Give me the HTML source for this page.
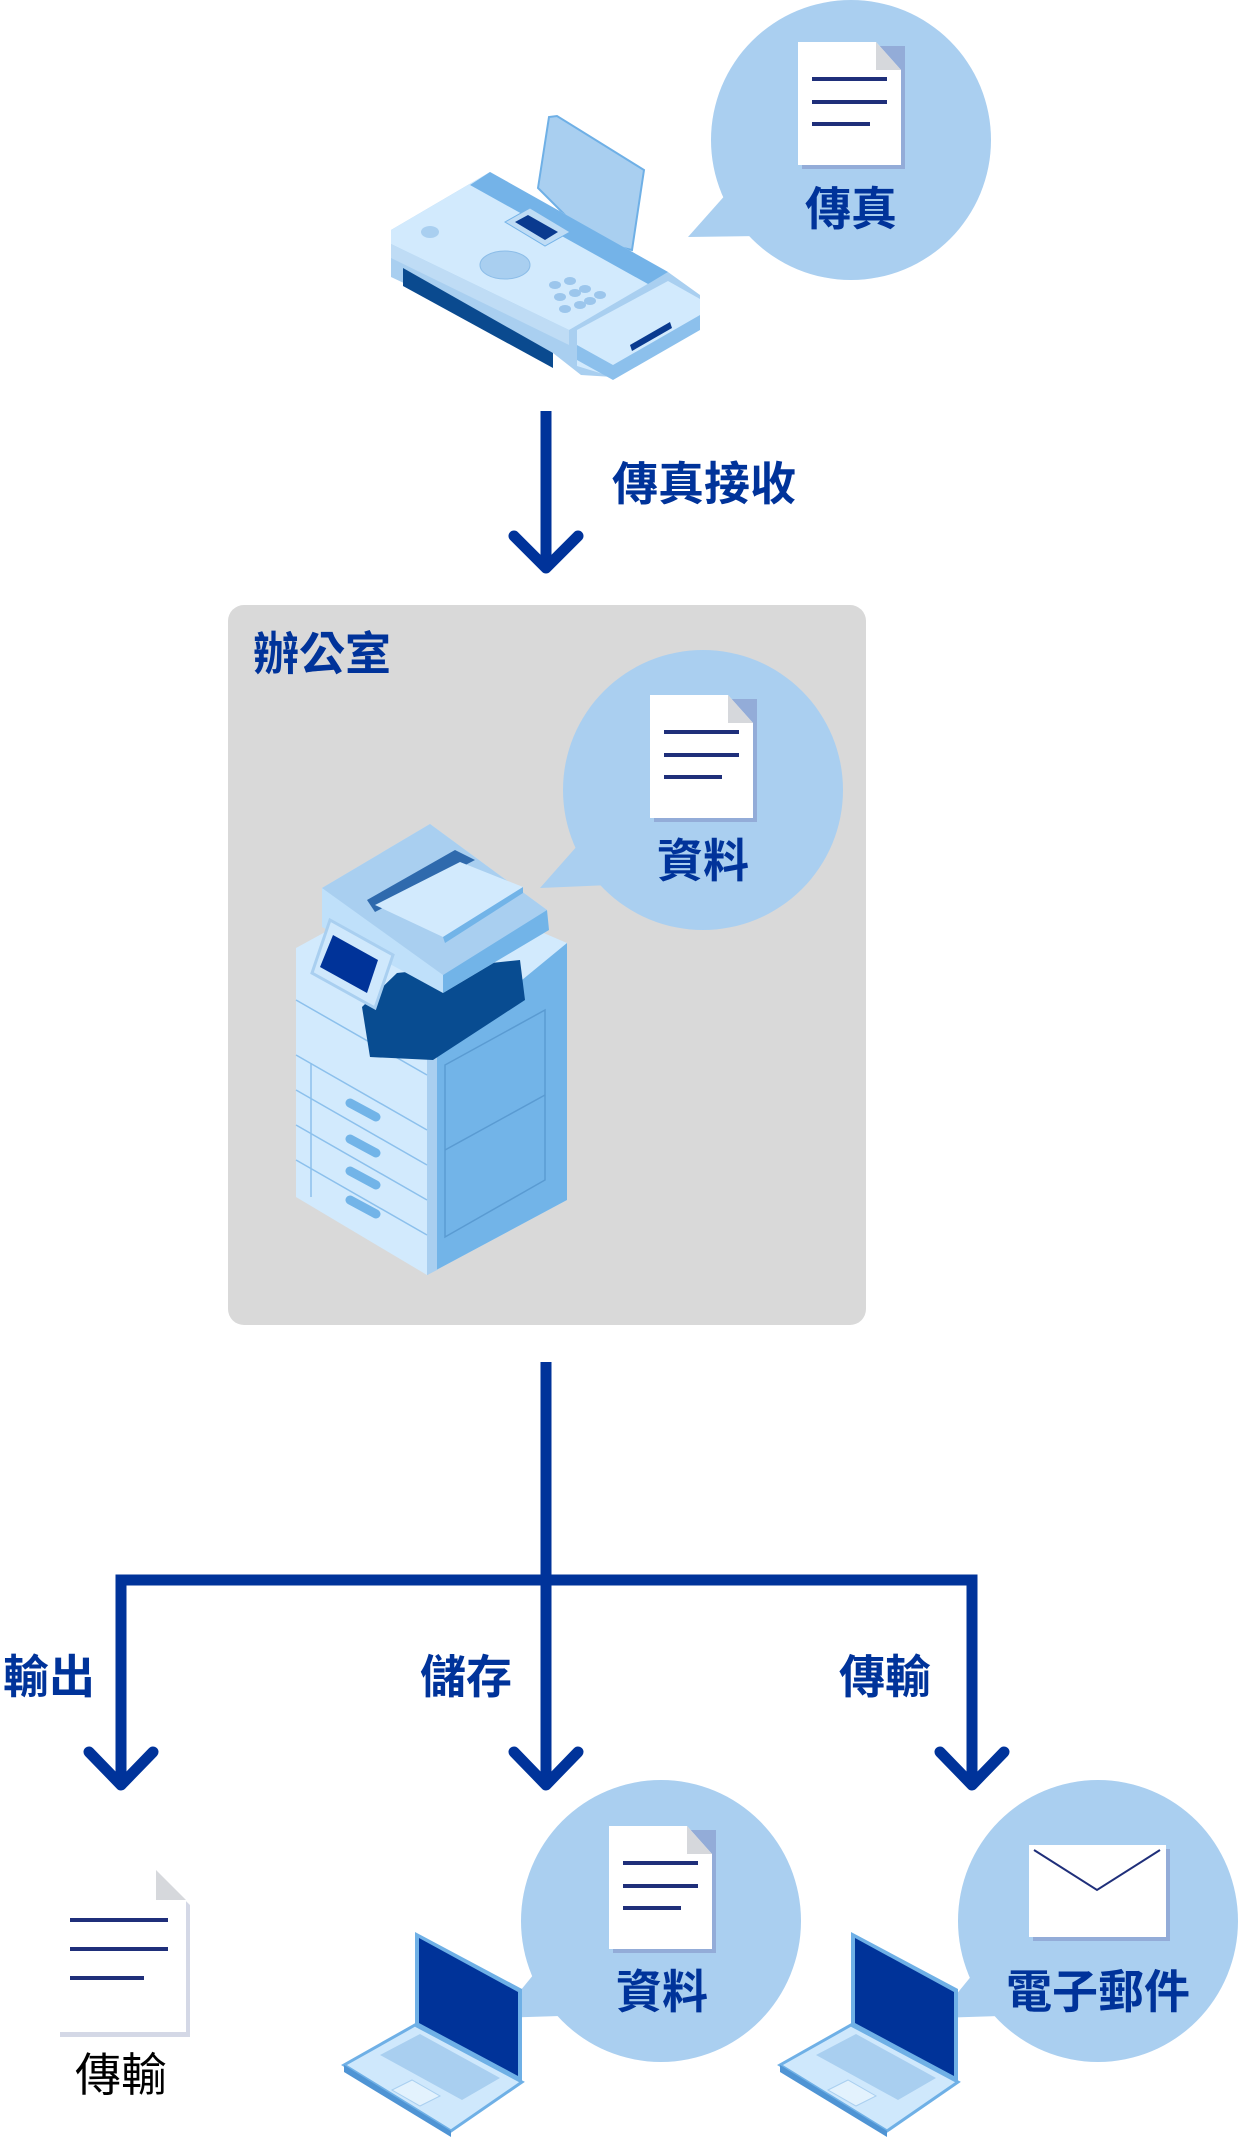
<!DOCTYPE html>
<html><head><meta charset="utf-8"><style>
html,body{margin:0;padding:0;background:#fff}
svg{display:block}
text{font-family:"Liberation Sans","Noto Sans CJK TC",sans-serif;font-weight:700}
</style></head><body>
<svg width="1240" height="2142" viewBox="0 0 1240 2142" xmlns="http://www.w3.org/2000/svg">
<defs>
<g id="doc">
  <rect x="4" y="4" width="103" height="123" fill="#93acd8"/>
  <path d="M0 0 H78 L103 28 V123 H0 Z" fill="#fff"/>
  <path d="M78 0 L103 28 H78 Z" fill="#d6d8dc"/>
  <rect x="14" y="35" width="75" height="4" fill="#1f2f7a"/>
  <rect x="14" y="58" width="75" height="4" fill="#1f2f7a"/>
  <rect x="14" y="80" width="58" height="4" fill="#1f2f7a"/>
</g>
<g id="laptop">
  <polygon points="344,2065 415,2025 522,2082 451,2131" fill="#cfe8fc" stroke="#6fb0e6" stroke-width="3"/>
  <polygon points="344,2065 451,2131 451,2137 344,2072" fill="#4f94d4"/>
  <polygon points="380,2055 420,2034 500,2078 462,2100" fill="#a9cff0"/>
  <polygon points="392,2090 412,2080 440,2096 420,2106" fill="#e3f2fd" stroke="#a9cff0"/>
  <polygon points="415,1932 522,1989 522,2082 415,2025" fill="#6fb0e6"/>
  <polygon points="419,1938 518,1992 518,2076 419,2023" fill="#003399"/>
</g>
</defs>

<!-- fax bubble -->
<ellipse cx="851" cy="140" rx="140" ry="140" fill="#aacff0"/>
<polygon points="688,237 728,192 760,236" fill="#aacff0"/>
<use href="#doc" x="798" y="42"/>
<text x="851" y="225" font-size="46" fill="#00339a" text-anchor="middle">傳真</text>

<!-- fax machine -->
<polygon points="538,188 549,117 557,116 644,170 632,250 590,240" fill="#a9cff0" stroke="#6fb0e6" stroke-width="2"/>
<polygon points="391,230 490,172 668,272 700,295 700,326 613,377 581,375 553,353 391,277" fill="#a9cff0"/>
<polygon points="391,230 490,172 668,272 569,330 391,244" fill="#d2eafd"/>
<polygon points="470,185 490,172 668,272 648,284" fill="#74b3e8"/>
<polygon points="403,268 553,353 553,368 403,286" fill="#0a4a8f"/>
<polygon points="391,244 569,330 569,345 391,258" fill="#bfdcf5"/>
<polygon points="505,222 530,208 570,232 545,246" fill="#bfdcf5" stroke="#74b3e8"/>
<polygon points="515,222 528,215 558,232 545,240" fill="#0a3a8f"/>
<ellipse cx="505" cy="265" rx="25" ry="14" fill="#a9cff0" stroke="#8cbde8"/>
<ellipse cx="430" cy="232" rx="9" ry="6" fill="#a9cff0"/>
<g fill="#9cc6ec">
<ellipse cx="555" cy="285" rx="6" ry="4"/><ellipse cx="570" cy="281" rx="6" ry="4"/><ellipse cx="585" cy="289" rx="6" ry="4"/>
<ellipse cx="560" cy="297" rx="6" ry="4"/><ellipse cx="575" cy="293" rx="6" ry="4"/><ellipse cx="590" cy="301" rx="6" ry="4"/>
<ellipse cx="565" cy="309" rx="6" ry="4"/><ellipse cx="580" cy="305" rx="6" ry="4"/><ellipse cx="600" cy="295" rx="6" ry="4"/>
</g>
<polygon points="577,330 668,281 700,299 700,326 613,377 577,366" fill="#d2eafd"/>
<polygon points="577,345 613,365 700,315 700,330 613,380 577,360" fill="#8cc0ec"/>
<polygon points="630,345 670,322 672,328 632,351" fill="#0a3a8f"/>

<!-- arrow 1 -->
<line x1="546" y1="411" x2="546" y2="566" stroke="#00339a" stroke-width="11"/>
<polyline points="514,536 546,568 578,536" fill="none" stroke="#00339a" stroke-width="11" stroke-linecap="round" stroke-linejoin="round"/>
<text x="612" y="500" font-size="46" fill="#00339a">傳真接收</text>

<!-- office box -->
<rect x="228" y="605" width="638" height="720" rx="16" fill="#d9d9d9"/>
<text x="253" y="670" font-size="46" fill="#00339a">辦公室</text>

<ellipse cx="703" cy="790" rx="140" ry="140" fill="#aacff0"/>
<polygon points="540,888 578,845 610,885" fill="#aacff0"/>
<use href="#doc" x="650" y="695"/>
<text x="703" y="877" font-size="46" fill="#00339a" text-anchor="middle">資料</text>

<!-- copier -->
<polygon points="296,948 420,880 567,943 567,1200 427,1275 296,1197" fill="#d2eafd"/>
<polygon points="427,1058 567,943 567,1200 427,1275" fill="#72b4e8"/>
<polygon points="427,1058 437,1052 437,1270 427,1275" fill="#a9cff0"/>
<polygon points="445,1065 545,1010 545,1180 445,1237" fill="none" stroke="#5a9bd2" stroke-width="1.5"/>
<line x1="445" y1="1150" x2="545" y2="1095" stroke="#5a9bd2" stroke-width="1.5"/>
<g stroke="#8cc0ec" stroke-width="1.5">
<line x1="296" y1="1000" x2="427" y2="1075"/><line x1="296" y1="1055" x2="427" y2="1130"/>
<line x1="296" y1="1090" x2="427" y2="1165"/><line x1="296" y1="1125" x2="427" y2="1200"/>
<line x1="296" y1="1160" x2="427" y2="1235"/><line x1="311" y1="1063" x2="311" y2="1197"/>
</g>
<g stroke="#72b4e8" stroke-width="9" stroke-linecap="round">
<line x1="350" y1="1103" x2="376" y2="1117"/><line x1="350" y1="1139" x2="376" y2="1153"/>
<line x1="350" y1="1171" x2="376" y2="1185"/><line x1="350" y1="1200" x2="376" y2="1214"/>
</g>
<polygon points="362,1007 397,973 520,960 525,1000 433,1060 370,1057" fill="#084c91"/>
<polygon points="322,888 430,824 547,910 549,930 443,993 322,927" fill="#bfe0fa"/>
<polygon points="322,888 430,824 547,910 443,975" fill="#a9cff0"/>
<polygon points="443,975 547,910 549,930 443,993" fill="#72b4e8"/>
<polygon points="367,900 455,850 475,860 375,912" fill="#2f6aad"/>
<polygon points="375,905 460,862 523,887 443,937" fill="#d2eafd"/>
<polygon points="443,937 523,887 523,893 445,943" fill="#72b4e8"/>
<polygon points="312,973 330,920 393,955 375,1008" fill="#cfe8fc" stroke="#a9cff0" stroke-width="3"/>
<polygon points="320,967 333,935 378,960 367,993" fill="#003399"/>

<!-- connectors -->
<line x1="546" y1="1362" x2="546" y2="1784" stroke="#00339a" stroke-width="11"/>
<polyline points="121,1786 121,1580 972,1580 972,1786" fill="none" stroke="#00339a" stroke-width="11"/>
<g fill="none" stroke="#00339a" stroke-width="11" stroke-linecap="round" stroke-linejoin="round">
<polyline points="89,1752 121,1785 153,1752"/>
<polyline points="514,1752 546,1785 578,1752"/>
<polyline points="940,1752 972,1785 1004,1752"/>
</g>
<text x="3" y="1693" font-size="46" fill="#00339a">輸出</text>
<text x="420" y="1693" font-size="46" fill="#00339a">儲存</text>
<text x="839" y="1693" font-size="46" fill="#00339a">傳輸</text>

<!-- output doc -->
<path d="M60 1875 H159 L190 1905 V2037 H60 Z" fill="#d4d8e6"/>
<path d="M57 1870 H156 L186 1900 V2032 H57 Z" fill="#fff"/>
<path d="M156 1870 L186 1900 H156 Z" fill="#d6d8dc"/>
<rect x="70" y="1918" width="98" height="4" fill="#1f2f7a"/>
<rect x="70" y="1947" width="98" height="4" fill="#1f2f7a"/>
<rect x="70" y="1976" width="74" height="4" fill="#1f2f7a"/>
<text x="121" y="2091" font-size="46" fill="#000" text-anchor="middle" style="font-weight:400">傳輸</text>

<!-- storage -->
<ellipse cx="661" cy="1921" rx="140" ry="141" fill="#aacff0"/>
<polygon points="498,2018 534,1974 560,2016" fill="#aacff0"/>
<use href="#doc" x="609" y="1826"/>
<text x="662" y="2008" font-size="46" fill="#00339a" text-anchor="middle">資料</text>
<use href="#laptop"/>

<!-- email -->
<ellipse cx="1098" cy="1921" rx="140" ry="141" fill="#aacff0"/>
<polygon points="937,2018 973,1974 1000,2016" fill="#aacff0"/>
<rect x="1033" y="1849" width="137" height="92" fill="#93acd8"/>
<rect x="1029" y="1845" width="137" height="92" fill="#fff"/>
<polyline points="1034,1850 1097,1890 1160,1850" fill="none" stroke="#1f2f7a" stroke-width="2"/>
<text x="1098" y="2008" font-size="46" fill="#00339a" text-anchor="middle">電子郵件</text>
<use href="#laptop" x="436"/>
</svg>
</body></html>
